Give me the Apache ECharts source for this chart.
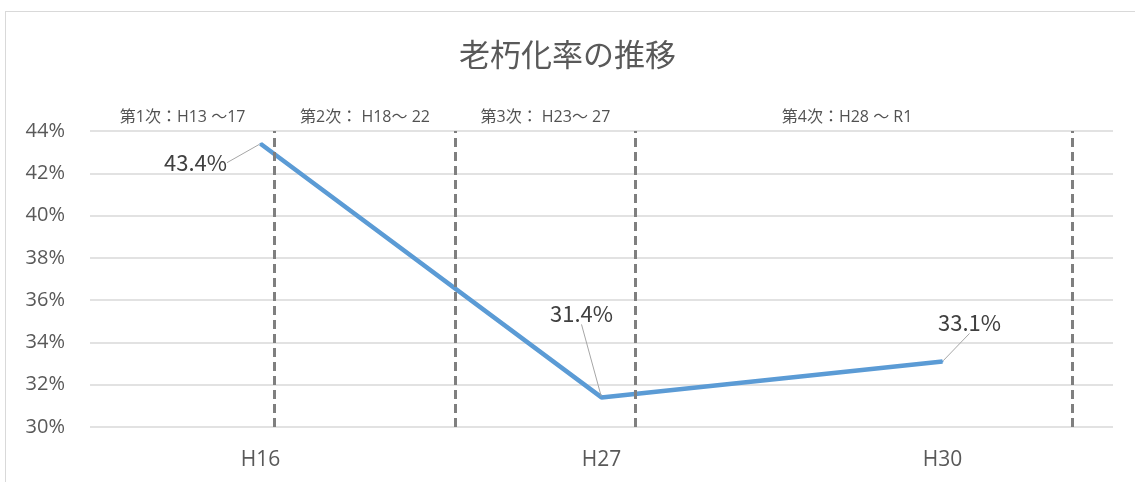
<!DOCTYPE html>
<html>
<head>
<meta charset="utf-8">
<script src="https://cdn.jsdelivr.net/npm/echarts@6/dist/echarts.min.js"></script>
<style>
  html, body { margin: 0; padding: 0; background: #fff; }
  #chart { width: 1135px; height: 482px; }
  .frame {
    position: absolute; left: 5px; top: 11px; width: 1140px; height: 480px;
    border: 1px solid #d9d9d9; pointer-events: none;
  }
</style>
</head>
<body>
<div id="chart"></div>
<div class="frame"></div>
<script>
// 年度と老朽化率
const years = ['H16', 'H27', 'H30'];
const rates = [43.4, 31.4, 33.1];
// 計画期間の区切り（カテゴリ幅を1とした位置）
const periodBounds = [0, 0.543, 1.07, 1.601, 2.883];
const periodNames = ['第1次：H13 ～17', '第2次： H18～ 22', '第3次： H23～ 27', '第4次：H28 ～ R1'];
// ラベルのずらし量
const labelShift = [[-65, 19], [-20, -84], [27, -39]];

const font = '"Open Sans", "Noto Sans CJK JP", sans-serif';
const cjkFont = '"Noto Sans CJK JP", "Noto Sans", sans-serif';
const textColor = '#595959';

let periodLabels = [];
for (let i = 0; i < periodNames.length; i++) {
  periodLabels.push({
    name: periodNames[i],
    // 第4次だけ少し左寄せ
    value: [(periodBounds[i] + periodBounds[i + 1]) / 2 - (i === 3 ? 0.022 : 0), 44]
  });
}

let myChart = echarts.init(document.getElementById('chart'));
myChart.setOption({
  animation: false,
  textStyle: { fontFamily: font },
  title: {
    text: '老朽化率の推移',
    left: 'center',
    top: 34,
    textStyle: { fontSize: 31, fontWeight: 'normal', color: textColor, fontFamily: cjkFont }
  },
  grid: { left: 90, right: 22, top: 131, bottom: 55 },
  xAxis: [{
    type: 'category',
    data: years,
    boundaryGap: true,
    axisLine: { show: false },
    axisTick: { show: false },
    axisLabel: { fontSize: 21, color: textColor, margin: 23, fontFamily: font }
  }, {
    type: 'value',
    min: 0,
    max: 3,
    show: false
  }],
  yAxis: [{
    type: 'value',
    min: 30,
    max: 44,
    interval: 2,
    axisLine: { show: false },
    axisTick: { show: false },
    axisLabel: { formatter: '{value}%', fontSize: 20, color: textColor, margin: 25, fontFamily: font },
    splitLine: { lineStyle: { color: '#d9d9d9', width: 1.5 } }
  }],
  series: [{
    name: '老朽化率',
    type: 'line',
    data: rates,
    symbol: 'circle',
    symbolSize: 2,
    itemStyle: { color: '#5b9bd5' },
    lineStyle: { color: '#5b9bd5', width: 4.5 },
    label: {
      show: true,
      position: 'inside',
      formatter: '{c}%',
      fontSize: 22,
      fontFamily: cjkFont,
      color: '#404040'
    },
    labelLine: {
      show: true,
      lineStyle: { color: '#a6a6a6', width: 1 }
    },
    labelLayout: function (params) {
      return { dx: labelShift[params.dataIndex][0], dy: labelShift[params.dataIndex][1] };
    },
    z: 3
  }, {
    name: '期間',
    type: 'scatter',
    xAxisIndex: 1,
    data: periodLabels,
    symbolSize: 0,
    silent: true,
    label: {
      show: true,
      position: 'top',
      distance: 6,
      formatter: '{b}',
      fontSize: 16,
      fontFamily: font,
      color: '#262626'
    },
    markLine: {
      silent: true,
      symbol: 'none',
      label: { show: false },
      lineStyle: { color: '#7f7f7f', width: 3, type: [9, 5] },
      data: periodBounds.slice(1).map(function (b) { return { xAxis: b }; })
    },
    z: 2
  }]
});
</script>
</body>
</html>
